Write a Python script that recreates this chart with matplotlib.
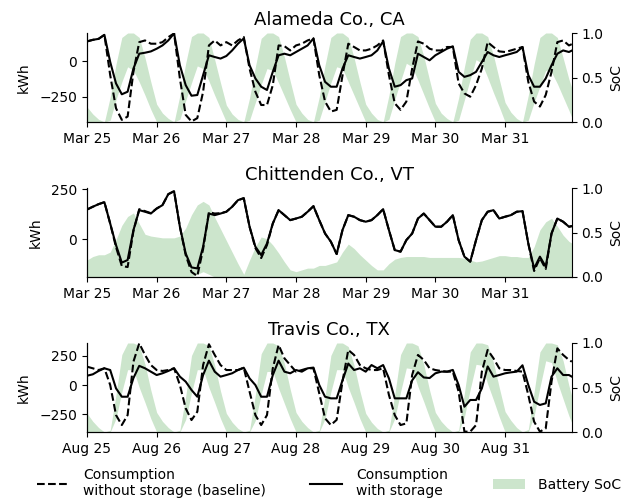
import pandas as pd
import matplotlib
matplotlib.use('Agg')
import matplotlib.pyplot as plt
import matplotlib.dates as mdates
from matplotlib.ticker import MultipleLocator
from matplotlib.lines import Line2D
from matplotlib.patches import Patch

# samples every 2 hours over one week, last sample at 23:00 of day 7
hours = list(range(0, 168, 2)) + [167]

# Alameda Co., CA (kWh)
alameda_base = [
    139, 150, 157, 185, -97, -329, -410, -387, -74, 134, 146, 123,
    123, 134, 169, 195, -120, -375, -421, -398, -213, 111, 146, 111,
    134, 111, 146, 170, -51, -213, -306, -306, -167, 111, 106, 76,
    111, 123, 146, 160, -97, -282, -352, -340, -100, 123, 100, 76,
    76, 88, 111, 146, -97, -294, -340, -282, -51, 139, 123, 88,
    76, 76, 100, 100, -155, -225, -248, -167, -51, 134, 100, 69,
    65, 76, 88, 100, -144, -282, -317, -236, -74, 134, 146, 111,
    120]
alameda_storage = [
    139, 150, 157, 185, -5, -155, -231, -213, -51, 53, 60, 69,
    88, 111, 146, 195, -28, -167, -241, -236, -97, 42, 30, 19,
    37, 76, 123, 160, -28, -120, -178, -201, -74, 42, 53, 42,
    65, 88, 111, 160, -28, -144, -178, -178, -51, 42, 30, 19,
    30, 42, 76, 140, -51, -178, -167, -132, -120, 53, 30, 7,
    42, 65, 88, 105, -74, -109, -97, -74, -5, 65, 42, 30,
    42, 53, 65, 100, -97, -178, -178, -120, -28, 53, 76, 65,
    75]
alameda_soc_hi = [
    0.17, 0.09, 0.03, 0.0, 0.28, 0.65, 0.95, 1.0, 1.0, 0.95, 0.72, 0.45,
    0.20, 0.10, 0.04, 0.0, 0.30, 0.66, 0.96, 1.0, 1.0, 0.95, 0.70, 0.44,
    0.19, 0.09, 0.03, 0.0, 0.27, 0.62, 0.94, 1.0, 1.0, 0.96, 0.73, 0.46,
    0.20, 0.10, 0.03, 0.0, 0.28, 0.64, 0.95, 1.0, 1.0, 0.95, 0.72, 0.45,
    0.20, 0.10, 0.03, 0.0, 0.30, 0.66, 0.96, 1.0, 1.0, 0.96, 0.74, 0.47,
    0.21, 0.10, 0.04, 0.0, 0.27, 0.62, 0.93, 1.0, 1.0, 0.96, 0.75, 0.48,
    0.22, 0.11, 0.04, 0.0, 0.30, 0.65, 0.95, 1.0, 1.0, 0.95, 0.72, 0.48,
    0.38]
alameda_soc_lo = [
    0, 0, 0, 0, 0.02, 0.25, 0.45, 0.62, 0.58, 0.45, 0.30, 0.14,
    0, 0, 0, 0, 0.03, 0.24, 0.44, 0.63, 0.60, 0.46, 0.30, 0.15,
    0, 0, 0, 0, 0.02, 0.22, 0.42, 0.60, 0.58, 0.44, 0.29, 0.14,
    0, 0, 0, 0, 0.02, 0.23, 0.44, 0.62, 0.60, 0.45, 0.30, 0.15,
    0, 0, 0, 0, 0.03, 0.25, 0.46, 0.66, 0.62, 0.47, 0.31, 0.15,
    0, 0, 0, 0, 0.02, 0.25, 0.48, 0.70, 0.66, 0.50, 0.33, 0.17,
    0, 0, 0, 0, 0.02, 0.22, 0.40, 0.58, 0.56, 0.43, 0.28, 0.13,
    0.05]

# Chittenden Co., VT (kWh)
chittenden_base = [
    148, 162, 175, 185, 78, -40, -135, -140, 40, 150, 140, 130,
    153, 170, 225, 240, 62, -80, -165, -185, -50, 135, 128, 130,
    137, 162, 195, 205, 62, -45, -95, -30, 78, 145, 120, 95,
    103, 112, 137, 165, 95, 28, -13, -75, 45, 120, 112, 95,
    87, 95, 120, 150, 45, -55, -63, -5, 28, 103, 128, 95,
    62, 62, 87, 120, -5, -88, -113, -5, 95, 137, 145, 103,
    112, 120, 137, 140, -22, -160, -95, -150, 28, 103, 87, 62,
    65]
chittenden_storage = [
    148, 162, 175, 185, 78, -30, -118, -105, 45, 145, 137, 128,
    153, 170, 225, 240, 62, -72, -142, -147, -38, 128, 120, 128,
    137, 162, 195, 205, 62, -38, -80, -22, 78, 145, 120, 95,
    103, 112, 137, 165, 95, 28, -13, -75, 45, 120, 112, 95,
    87, 95, 120, 150, 45, -55, -63, -5, 28, 103, 128, 95,
    62, 62, 87, 120, -5, -88, -113, -5, 95, 137, 145, 103,
    112, 120, 137, 140, -22, -147, -88, -138, 28, 103, 87, 62,
    65]
chittenden_soc_hi = [
    0.19, 0.23, 0.25, 0.25, 0.28, 0.42, 0.58, 0.68, 0.72, 0.60, 0.48, 0.46,
    0.45, 0.44, 0.44, 0.44, 0.46, 0.55, 0.70, 0.81, 0.85, 0.81, 0.67, 0.54,
    0.41, 0.28, 0.15, 0.03, 0.19, 0.34, 0.45, 0.43, 0.36, 0.27, 0.17, 0.08,
    0.06, 0.08, 0.10, 0.10, 0.13, 0.13, 0.15, 0.17, 0.28, 0.37, 0.32, 0.25,
    0.19, 0.13, 0.08, 0.08, 0.15, 0.20, 0.22, 0.23, 0.23, 0.23, 0.23, 0.22,
    0.22, 0.22, 0.22, 0.22, 0.22, 0.21, 0.19, 0.17, 0.18, 0.20, 0.22, 0.24,
    0.24, 0.23, 0.23, 0.22, 0.22, 0.34, 0.53, 0.62, 0.66, 0.57, 0.47, 0.40,
    0.38]
chittenden_soc_lo = [
    0, 0, 0, 0, 0, 0, 0, 0, 0, 0, 0, 0,
    0, 0, 0, 0, 0, 0, 0, 0.03, 0.06, 0.03, 0, 0,
    0, 0, 0, 0, 0, 0, 0, 0, 0, 0, 0, 0,
    0, 0, 0, 0, 0, 0, 0, 0, 0, 0, 0, 0,
    0, 0, 0, 0, 0, 0, 0, 0, 0, 0, 0, 0,
    0, 0, 0, 0, 0, 0, 0, 0, 0, 0, 0, 0,
    0, 0, 0, 0, 0, 0, 0, 0, 0, 0, 0, 0,
    0]

# Travis Co., TX (kWh)
travis_base = [
    158, 144, 129, 144, 0, -259, -345, -259, 201, 359, 259, 172,
    129, 121, 129, 144, 0, -201, -302, -230, 172, 351, 259, 172,
    129, 129, 129, 149, -57, -259, -345, -259, 144, 345, 230, 172,
    115, 129, 144, 144, -72, -287, -345, -300, 30, 302, 259, 172,
    144, 129, 129, 144, -86, -259, -345, -331, 86, 259, 216, 144,
    129, 121, 115, 115, -57, -402, -402, -345, 115, 302, 230, 144,
    129, 129, 121, 115, -86, -316, -402, -374, 29, 316, 259, 216,
    201]
travis_storage = [
    80, 92, 121, 144, 129, -29, -101, -101, 60, 165, 144, 115,
    86, 101, 121, 144, 72, 29, -43, -101, 86, 210, 115, 72,
    86, 101, 129, 149, 57, 0, -101, -101, 86, 210, 115, 101,
    129, 115, 144, 150, 0, -101, -115, -115, 40, 185, 129, 144,
    115, 172, 144, 172, 57, -115, -115, -115, 40, 110, 65, 60,
    101, 115, 115, 130, 0, -187, -129, -129, -29, 160, 72, 86,
    101, 109, 115, 170, 0, -144, -172, -158, 72, 144, 86, 86,
    72]
travis_soc_hi = [
    0.21, 0.12, 0.05, 0.0, 0.02, 0.42, 0.87, 1.0, 1.0, 0.97, 0.76, 0.47,
    0.22, 0.12, 0.05, 0.0, 0.02, 0.40, 0.86, 1.0, 1.0, 0.97, 0.75, 0.46,
    0.21, 0.11, 0.04, 0.0, 0.02, 0.42, 0.88, 1.0, 1.0, 0.97, 0.77, 0.48,
    0.22, 0.12, 0.05, 0.0, 0.02, 0.40, 0.86, 1.0, 1.0, 0.96, 0.75, 0.46,
    0.21, 0.11, 0.04, 0.0, 0.02, 0.42, 0.87, 1.0, 1.0, 0.97, 0.76, 0.47,
    0.22, 0.12, 0.05, 0.0, 0.02, 0.44, 0.90, 1.0, 1.0, 0.98, 0.78, 0.50,
    0.23, 0.13, 0.05, 0.0, 0.03, 0.45, 0.90, 1.0, 1.0, 0.98, 0.80, 0.52,
    0.40]
travis_soc_lo = [
    0, 0, 0, 0, 0, 0.15, 0.45, 0.70, 0.70, 0.50, 0.33, 0.15,
    0, 0, 0, 0, 0, 0.14, 0.44, 0.70, 0.70, 0.50, 0.33, 0.15,
    0, 0, 0, 0, 0, 0.13, 0.42, 0.68, 0.68, 0.49, 0.32, 0.15,
    0, 0, 0, 0, 0, 0.15, 0.45, 0.70, 0.70, 0.50, 0.33, 0.15,
    0, 0, 0, 0, 0, 0.15, 0.45, 0.72, 0.71, 0.51, 0.34, 0.16,
    0, 0, 0, 0, 0, 0.17, 0.48, 0.76, 0.75, 0.54, 0.36, 0.17,
    0, 0, 0, 0, 0, 0.18, 0.50, 0.80, 0.78, 0.56, 0.37, 0.18,
    0.10]

panels = [
    ('Alameda Co., CA', '2019-03-25', alameda_base, alameda_storage,
     alameda_soc_lo, alameda_soc_hi, (-425, 198)),
    ('Chittenden Co., VT', '2019-03-25', chittenden_base, chittenden_storage,
     chittenden_soc_lo, chittenden_soc_hi, (-190, 256)),
    ('Travis Co., TX', '2019-08-25', travis_base, travis_storage,
     travis_soc_lo, travis_soc_hi, (-405, 362)),
]

soc_color = 'green'
soc_alpha = 0.2

fig = plt.figure(figsize=(6.33, 5), dpi=100)
bottoms = [0.756, 0.446, 0.136]

for (title, start, base, storage, lo, hi, ylim), b in zip(panels, bottoms):
    ax = fig.add_axes([0.1374, b, 0.766, 0.178])
    ax2 = ax.twinx()
    t = pd.Timestamp(start) + pd.to_timedelta(hours, unit='h')

    ax2.fill_between(t, lo, hi, color=soc_color, alpha=soc_alpha, linewidth=0)
    ax2.set_ylim(0, 1)
    ax2.set_yticks([0, 0.5, 1.0])
    ax2.set_ylabel('SoC')

    ax.plot(t, base, color='k', ls='--', lw=1.5)
    ax.plot(t, storage, color='k', ls='-', lw=1.5)
    ax.set_zorder(ax2.get_zorder() + 1)
    ax.patch.set_visible(False)

    ax.set_ylim(*ylim)
    ax.yaxis.set_major_locator(MultipleLocator(250))
    ax.set_ylabel('kWh', labelpad=6)
    ax.set_title(title, fontsize=13)

    ax.set_xlim(t[0], t[-1])
    ax.xaxis.set_major_locator(mdates.DayLocator())
    ax.xaxis.set_major_formatter(mdates.DateFormatter('%b %d'))

    ax.spines['top'].set_visible(False)
    ax.spines['right'].set_visible(False)
    ax2.spines['top'].set_visible(False)

handles = [Line2D([], [], color='k', ls='--', lw=1.5),
           Line2D([], [], color='k', ls='-', lw=1.5),
           Patch(facecolor=soc_color, alpha=soc_alpha, edgecolor='none')]
labels = ['Consumption\nwithout storage (baseline)',
          'Consumption\nwith storage',
          'Battery SoC']
# centred under the axes rather than the figure
fig.legend(handles, labels, loc='center', bbox_to_anchor=(0.5205, 0.034),
           ncol=3, frameon=False, columnspacing=3.2,
           handlelength=2.3, handletextpad=1.0)

fig.savefig('out.png', dpi=100)
